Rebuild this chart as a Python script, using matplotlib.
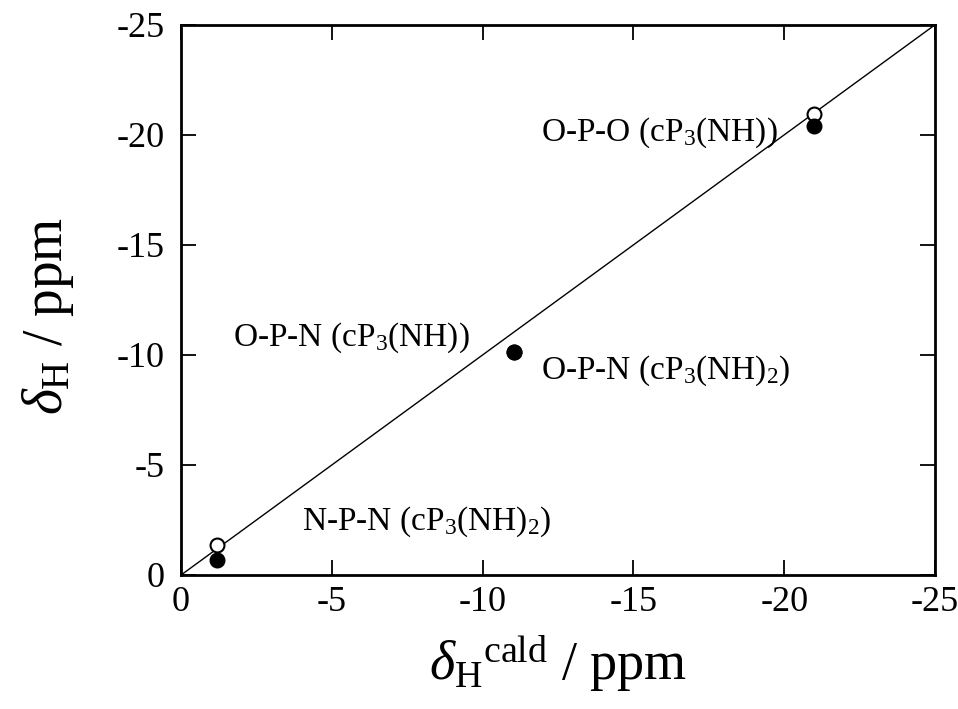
import matplotlib
matplotlib.use("Agg")
import matplotlib.pyplot as plt

plt.rcParams['font.family'] = 'Liberation Serif'
plt.rcParams['mathtext.fontset'] = 'custom'
plt.rcParams['mathtext.rm'] = 'Liberation Serif'
plt.rcParams['mathtext.it'] = 'Liberation Serif:italic'
plt.rcParams['axes.unicode_minus'] = False

# calculated vs observed shifts (ppm)
calc = [-1.2, -11.05, -21.0]
obs_open = [-1.35, -10.15, -20.95]
obs_filled = [-0.68, -10.15, -20.4]

labels = ["O-P-O (cP$_3$(NH))", "O-P-N (cP$_3$(NH))",
          "O-P-N (cP$_3$(NH)$_2$)", "N-P-N (cP$_3$(NH)$_2$)"]
label_x = [-11.95, -1.72, -11.95, -4.0]
label_y = [-20.1, -10.77, -9.3, -2.4]

fig = plt.figure(figsize=(9.58, 7.09), dpi=100)
ax = fig.add_axes([0.189, 0.189, 0.787, 0.776])

ax.plot([0, -25], [0, -25], color='black', lw=1.0)
ax.plot(calc, obs_open, 'o', mfc='white', mec='black', mew=1.5, ms=10, zorder=3)
ax.plot(calc, obs_filled, 'o', color='black', ms=10.5, zorder=4)

for t, x, y in zip(labels, label_x, label_y):
    ax.text(x, y, t, fontsize=24, ha='left', va='center')

ax.set_xlim(0, -25)
ax.set_ylim(0, -25)
ax.set_xticks([0, -5, -10, -15, -20, -25])
ax.set_yticks([0, -5, -10, -15, -20, -25])
ax.tick_params(direction='in', length=11, width=1.3, labelsize=26,
               top=True, right=True)
ax.tick_params(axis='y', pad=12)
ax.tick_params(axis='x', pad=8)
for s in ax.spines.values():
    s.set_linewidth(2.0)

ax.set_xlabel(r"$\delta_\mathrm{H}{}^{\mathrm{cald}}$ / ppm", fontsize=39)
ax.set_ylabel(r"$\delta_\mathrm{H}$ / ppm", fontsize=40)
ax.xaxis.set_label_coords(0.5, -0.105)
ax.yaxis.set_label_coords(-0.14, 0.47)

fig.savefig("out.png", dpi=100)
